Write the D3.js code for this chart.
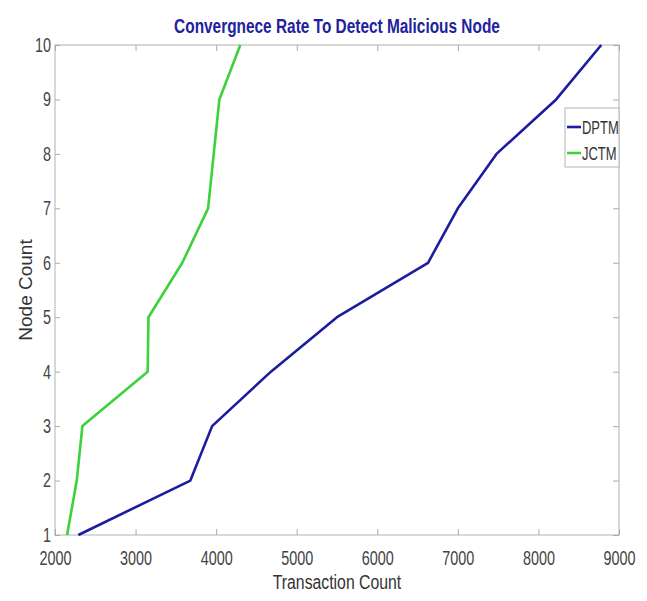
<!DOCTYPE html>
<html>
<head>
<meta charset="utf-8">
<script src="https://cdn.jsdelivr.net/npm/d3@7"></script>
<style>
  html, body { margin: 0; padding: 0; background: #fff; }
  svg { display: block; }
</style>
</head>
<body>
<script>
// Node counts on the y axis and transaction counts for each trust model
const nodeCounts = [1, 2, 3, 4, 5, 6, 7, 8, 9, 10];
const dptmTransactions = [2290, 3680, 3950, 4680, 5500, 6630, 7000, 7480, 8220, 8780];
const jctmTransactions = [2150, 2270, 2340, 3150, 3160, 3580, 3900, 3970, 4040, 4300];
const seriesNames = ["DPTM", "JCTM"];
const seriesColors = ["#1c1c9e", "#3dd13d"];
const xTicks = [2000, 3000, 4000, 5000, 6000, 7000, 8000, 9000];
const yTicks = [1, 2, 3, 4, 5, 6, 7, 8, 9, 10];

const W = 647, H = 601;
const margin = { left: 55, right: 28, top: 45, bottom: 66 };
const font = "'Liberation Sans', Arial, sans-serif";

// Squeeze a text horizontally so it reads like a narrow face
function condense(sel, factor) {
  sel.each(function () {
    const len = this.getComputedTextLength();
    if (len > 0) {
      d3.select(this).attr("textLength", len * factor).attr("lengthAdjust", "spacingAndGlyphs");
    }
  });
}

const svg = d3.select("body").append("svg").attr("width", W).attr("height", H);

const x = d3.scaleLinear().domain([2000, 9000]).range([margin.left, W - margin.right]);
const y = d3.scaleLinear().domain([1, 10]).range([H - margin.bottom, margin.top]);

const x0 = x.range()[0], x1 = x.range()[1], y0 = y.range()[0], y1 = y.range()[1];

// Plot frame
svg.append("rect")
  .attr("x", x0).attr("y", y1).attr("width", x1 - x0).attr("height", y0 - y1)
  .attr("fill", "#fff").attr("stroke", "#c4c4c4").attr("stroke-width", 1.3);

// Inward ticks on all four sides
function styleAxis(g) {
  g.select(".domain").remove();
  g.selectAll(".tick line").attr("stroke", "#aaaaaa");
  g.selectAll(".tick text").attr("fill", "#444").style("font-family", font).style("font-size", "20px");
}
const gx = svg.append("g").attr("transform", `translate(0,${y0})`)
  .call(d3.axisBottom(x).tickValues(xTicks).tickFormat(d3.format("d")).tickSizeInner(-6).tickPadding(16))
  .call(styleAxis);
condense(gx.selectAll(".tick text"), 0.72);
svg.append("g").attr("transform", `translate(0,${y1})`)
  .call(d3.axisTop(x).tickValues(xTicks).tickFormat("").tickSizeInner(-6))
  .call(styleAxis);
const gy = svg.append("g").attr("transform", `translate(${x0},0)`)
  .call(d3.axisLeft(y).tickValues(yTicks).tickFormat(d3.format("d")).tickSizeInner(-5).tickPadding(4))
  .call(styleAxis);
condense(gy.selectAll(".tick text"), 0.72);
svg.append("g").attr("transform", `translate(${x1},0)`)
  .call(d3.axisRight(y).tickValues(yTicks).tickFormat("").tickSizeInner(-6))
  .call(styleAxis);

// Series lines
const line = d3.line().x(d => x(d[0])).y(d => y(d[1]));
const series = [dptmTransactions, jctmTransactions];
series.forEach((vals, i) => {
  svg.append("path")
    .datum(vals.map((v, k) => [v, nodeCounts[k]]))
    .attr("fill", "none")
    .attr("stroke", seriesColors[i])
    .attr("stroke-width", 2.6)
    .attr("stroke-linejoin", "round")
    .attr("d", line);
});

// Legend
const lg = svg.append("g").attr("transform", `translate(${x1 - 54},108)`);
lg.append("rect").attr("width", 54).attr("height", 59)
  .attr("fill", "#fff").attr("stroke", "#b4b4b4").attr("stroke-width", 1);
seriesNames.forEach((name, i) => {
  const yy = 19 + i * 26;
  lg.append("line").attr("x1", 2).attr("x2", 16).attr("y1", yy).attr("y2", yy)
    .attr("stroke", seriesColors[i]).attr("stroke-width", 2.6);
  lg.append("text").attr("x", 17).attr("y", yy + 6.5).text(name)
    .attr("fill", "#333").style("font-family", font).style("font-size", "18px")
    .call(condense, 0.72);
});

// Title and axis labels
svg.append("text").attr("x", (x0 + x1) / 2).attr("y", 33).attr("text-anchor", "middle")
  .text("Convergnece Rate To Detect Malicious Node")
  .attr("fill", "#22229e").style("font-family", font).style("font-weight", "bold").style("font-size", "20px")
  .call(condense, 0.77);
svg.append("text").attr("x", (x0 + x1) / 2).attr("y", 589).attr("text-anchor", "middle")
  .text("Transaction Count")
  .attr("fill", "#333").style("font-family", font).style("font-size", "20px")
  .call(condense, 0.79);
svg.append("text").attr("transform", `translate(32,${(y0 + y1) / 2}) rotate(-90)`).attr("text-anchor", "middle")
  .text("Node Count")
  .attr("fill", "#333").style("font-family", font).style("font-size", "19px");
</script>
</body>
</html>
